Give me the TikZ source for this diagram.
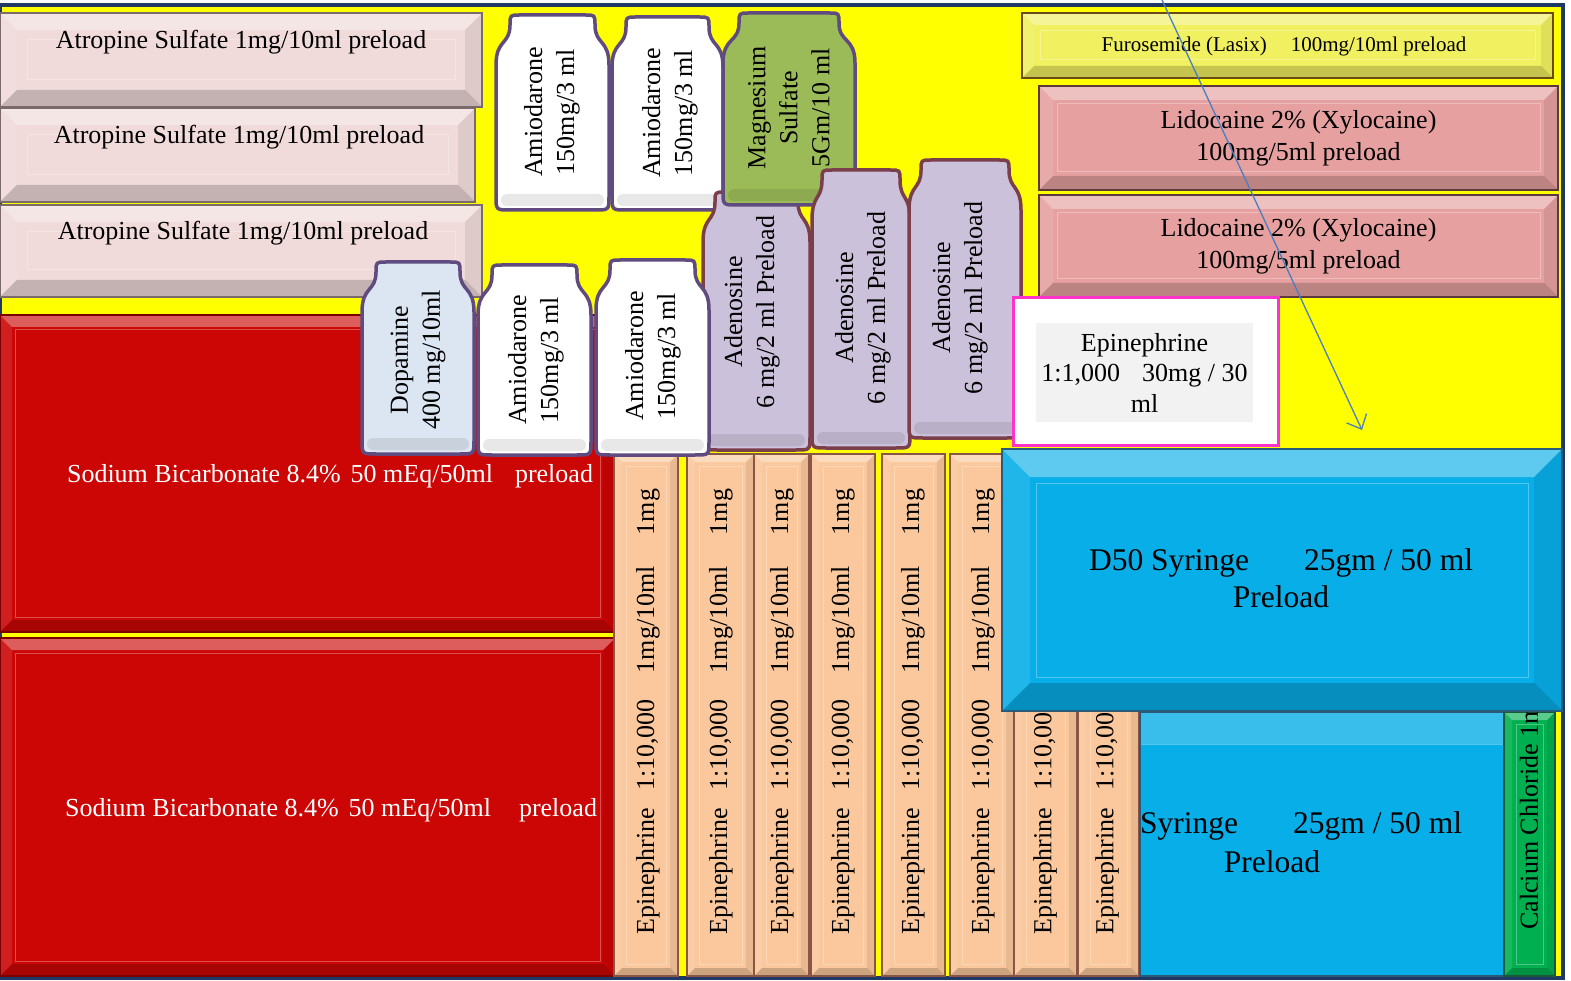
\documentclass[tikz,border=0pt]{standalone}
\usepackage{fontspec}
\setmainfont{Liberation Serif}
\usetikzlibrary{arrows.meta}
\definecolor{bgY}{HTML}{FFFF00}
\definecolor{navy}{HTML}{1F3864}
\definecolor{atro}{HTML}{F0DADA}
\definecolor{atroD}{HTML}{7A6A6A}
\definecolor{sodR}{HTML}{CC0505}
\definecolor{sodD}{HTML}{7A0000}
\definecolor{furo}{HTML}{F0F060}
\definecolor{furoD}{HTML}{6B4A1A}
\definecolor{lido}{HTML}{E6A0A0}
\definecolor{lidoD}{HTML}{5A3A3A}
\definecolor{peach}{HTML}{FAC89C}
\definecolor{peachD}{HTML}{8A5545}
\definecolor{dfifty}{HTML}{08AEE8}
\definecolor{dfiftyD}{HTML}{2A5A7A}
\definecolor{calc}{HTML}{00B050}
\definecolor{calcD}{HTML}{1A5A3A}
\definecolor{mag}{HTML}{9BBB59}
\definecolor{adeno}{HTML}{CCC1DA}
\definecolor{adenoD}{HTML}{7A3F4A}
\definecolor{dopa}{HTML}{DCE6F2}
\definecolor{purp}{HTML}{5F4B7F}
\definecolor{epiM}{HTML}{FF33CC}
\definecolor{epiG}{HTML}{F2F2F2}
\definecolor{arrowB}{HTML}{4A7EC0}
\tikzset{
  bev/.style 2 args={path picture={
    \coordinate (pNW) at (path picture bounding box.north west);
    \coordinate (pNE) at (path picture bounding box.north east);
    \coordinate (pSW) at (path picture bounding box.south west);
    \coordinate (pSE) at (path picture bounding box.south east);
    \fill[white,opacity=.35] (pNW) -- (pNE) -- ([xshift=-#1pt,yshift=-#1pt]pNE) -- ([xshift=#1pt,yshift=-#1pt]pNW) -- cycle;
    \fill[white,opacity=.1] (pNW) -- ([xshift=#1pt,yshift=-#1pt]pNW) -- ([xshift=#1pt,yshift=#1pt]pSW) -- (pSW) -- cycle;
    \fill[black,opacity=.07] (pNE) -- ([xshift=-#1pt,yshift=-#1pt]pNE) -- ([xshift=-#1pt,yshift=#1pt]pSE) -- (pSE) -- cycle;
    \fill[black,opacity=.18] (pSW) -- (pSE) -- ([xshift=-#1pt,yshift=#1pt]pSE) -- ([xshift=#1pt,yshift=#1pt]pSW) -- cycle;
    \draw[white,opacity=.3,line width=1pt] ([xshift=#2pt,yshift=-#2pt]pNW) rectangle ([xshift=-#2pt,yshift=#2pt]pSE);
  }},
  bevtop/.style={path picture={
    \fill[white,opacity=.2] (path picture bounding box.north west) rectangle ([yshift=-#1pt]path picture bounding box.north east);
    \draw[white,opacity=.3,line width=1pt] ([yshift=-#1pt]path picture bounding box.north west) -- ([yshift=-#1pt]path picture bounding box.north east);
  }},
  boxnode/.style={anchor=north west, inner sep=0pt, outer sep=0pt, line width=1.2pt},
  t26/.style={font=\fontsize{26}{32}\selectfont, inner sep=0pt},
  t21/.style={font=\fontsize{21}{25}\selectfont, inner sep=0pt},
  t31/.style={font=\fontsize{31.5}{37}\selectfont, inner sep=0pt},
  vlabel/.style={t26, rotate=90, align=center},
  striptext/.style={t26, rotate=90, anchor=west},
  conn/.style={draw=arrowB, line width=1.3pt, -{Straight Barb[length=12pt,width=22pt]}},
  bottleline/.style={line width=3.5pt, line join=round}
}
% name, x, y, width, height, fill, draw, bevel, inner inset
\newcommand\bx[9]{\node[boxnode, draw=#7, fill=#6, minimum width=#4pt, minimum height=#5pt, bev={#8}{#9}] (#1) at (#2,#3) {};}
% x1, y1, x2, y2, fill, draw, neck inset
\newcommand\bottle[7]{%
  \draw[bottleline, draw=#6, fill=#5]
    ({#1+#7+10},#2) -- ({#3-#7-10},#2) .. controls ({#3-#7},#2) .. ({#3-#7},{#2+10})
    .. controls ({#3-#7},{#2+30}) and (#3,{#2+24}) .. (#3,{#2+50})
    -- (#3,{#4-14}) .. controls (#3,#4) .. ({#3-14},#4)
    -- ({#1+14},#4) .. controls (#1,#4) .. (#1,{#4-14})
    -- (#1,{#2+50}) .. controls (#1,{#2+24}) and ({#1+#7},{#2+30}) .. ({#1+#7},{#2+10})
    .. controls ({#1+#7},#2) .. ({#1+#7+10},#2) -- cycle;
  \fill[black,opacity=.09,rounded corners=6pt] ({#1+5},{#4-16}) rectangle ({#3-5},{#4-4});
}
\newcommand\epitext{Epinephrine\hspace{17pt}1:10,000\hspace{26pt}1mg/10ml\hspace{31pt}1mg}
\begin{document}
\begin{tikzpicture}[x=1pt,y=-1pt]
\useasboundingbox (0,0) rectangle (1571,981);
\fill[white] (0,0) rectangle (1571,981);
\draw[navy, line width=4pt, fill=bgY] (0,5) rectangle (1563,978);

% Atropine
\bx{atr1}{0}{13}{482}{94}{atro}{atroD}{17}{27}
\bx{atr2}{0}{108}{475}{94}{atro}{atroD}{17}{27}
\bx{atr3}{0}{205}{482}{92}{atro}{atroD}{17}{27}
\node[t26] (atr1t) at (241,42) {Atropine Sulfate 1mg/10ml preload};
\node[t26] (atr2t) at (239,137) {Atropine Sulfate 1mg/10ml preload};
\node[t26] (atr3t) at (243,233) {Atropine Sulfate 1mg/10ml preload};

% Sodium bicarbonate
\bx{sod1}{0}{315}{615}{317}{sodR}{sodD}{12}{15}
\bx{sod2}{0}{638}{615}{338}{sodR}{sodD}{12}{15}
\node[t26,text=white] (sod1t) at (330,476) {Sodium Bicarbonate 8.4\%\hspace{10pt}50 mEq/50ml\hspace{22pt}preload};
\node[t26,text=white] (sod2t) at (331,810) {Sodium Bicarbonate 8.4\%\hspace{10pt}50 mEq/50ml\hspace{28pt}preload};

% Furosemide, Lidocaine
\bx{furo}{1022}{13}{531}{65}{furo}{furoD}{12}{18}
\node[t21] (furot) at (1284,46) {Furosemide (Lasix)\hspace{24pt}100mg/10ml preload};
\bx{lido1}{1039}{86}{519}{104}{lido}{lidoD}{14}{18}
\bx{lido2}{1039}{195}{519}{102}{lido}{lidoD}{14}{18}
\node[t26,align=center] (lido1t) at (lido1.center) {Lidocaine 2\% (Xylocaine)\\100mg/5ml preload};
\node[t26,align=center] (lido2t) at (lido2.center) {Lidocaine 2\% (Xylocaine)\\100mg/5ml preload};

% Epinephrine 1:10,000 strips
\bx{s1}{614}{454}{64}{522}{peach}{peachD}{8}{12}
\bx{s2}{687}{454}{67}{522}{peach}{peachD}{8}{12}
\bx{s3}{754}{454}{55}{522}{peach}{peachD}{8}{12}
\bx{s4}{811}{454}{64}{522}{peach}{peachD}{8}{12}
\bx{s5}{882}{454}{63}{522}{peach}{peachD}{8}{12}
\bx{s6}{950}{454}{64}{522}{peach}{peachD}{8}{12}
\bx{s7}{1014}{454}{63}{522}{peach}{peachD}{8}{12}
\bx{s8}{1078}{454}{61}{522}{peach}{peachD}{8}{12}
\node[striptext] (s1t) at (648,935) {\epitext};
\node[striptext] (s2t) at (721,935) {\epitext};
\node[striptext] (s3t) at (782,935) {\epitext};
\node[striptext] (s4t) at (843,935) {\epitext};
\node[striptext] (s5t) at (913,935) {\epitext};
\node[striptext] (s6t) at (983,935) {\epitext};
\node[striptext] (s7t) at (1045,935) {Epinephrine\hspace{17pt}1:10,000};
\node[striptext] (s8t) at (1107,935) {Epinephrine\hspace{17pt}1:10,000};

% Second syringe and calcium chloride
\node[boxnode, draw=dfiftyD, fill=dfifty, minimum width=364pt, minimum height=264pt, bevtop=32] (syr2) at (1140,712) {};
\node[t31,anchor=west] (syr2a) at (1140,826) {Syringe\hspace{55pt}25gm / 50 ml};
\node[t31] (syr2b) at (1272,862) {Preload};
\bx{calc}{1504}{712}{51}{264}{calc}{calcD}{8}{12}
\node[striptext] (calct) at (1529,930) {Calcium Chloride 1m};

% D50
\bx{d50}{1002}{449}{560}{262}{dfifty}{dfiftyD}{28}{34}
\node[t31,align=center] (d50t) at (1281,578) {D50 Syringe\hspace{55pt}25gm / 50 ml\\Preload};

% Bottles
\bottle{496}{15}{609}{210}{white}{purp}{14}
\node[vlabel] (amio1) at (552,112) {Amiodarone\\150mg/3 ml};
\bottle{612}{17}{723}{210}{white}{purp}{14}
\node[vlabel] (amio2) at (670,113) {Amiodarone\\150mg/3 ml};
\bottle{703}{192}{810}{450}{adeno}{adenoD}{12}
\node[vlabel] (aden1) at (752,312) {Adenosine\\6 mg/2 ml Preload};
\bottle{723}{13}{855}{205}{mag}{purp}{16}
\node[vlabel] (mag) at (789,108) {Magnesium\\Sulfate\\5Gm/10 ml};
\bottle{812}{170}{910}{448}{adeno}{adenoD}{10}
\node[vlabel] (aden2) at (863,308) {Adenosine\\6 mg/2 ml Preload};
\bottle{909}{160}{1021}{438}{adeno}{adenoD}{12}
\node[vlabel] (aden3) at (960,298) {Adenosine\\6 mg/2 ml Preload};
\bottle{362}{262}{474}{454}{dopa}{purp}{14}
\node[vlabel] (dopa) at (418,360) {Dopamine\\400 mg/10ml};
\bottle{478}{265}{591}{455}{white}{purp}{14}
\node[vlabel] (amio3) at (536,360) {Amiodarone\\150mg/3 ml};
\bottle{596}{260}{709}{455}{white}{purp}{14}
\node[vlabel] (amio4) at (653,356) {Amiodarone\\150mg/3 ml};

% Epinephrine 1:1,000
\node[boxnode, draw=epiM, line width=3pt, fill=white, minimum width=265pt, minimum height=147pt] (epi) at (1013,298) {};
\node[boxnode, fill=epiG, minimum width=217pt, minimum height=99pt] (epiin) at (1036,323) {};
\node[font=\fontsize{26}{30.5}\selectfont, inner sep=0pt, align=center] (epit) at (epiin.center) {Epinephrine\\1:1,000\hspace{22pt}30mg / 30\\ml};

% Arrow
\coordinate (arrS) at (1162,0);
\coordinate (arrE) at (1362,430);
\draw[conn] (arrS) -- (arrE);
\end{tikzpicture}
\end{document}
